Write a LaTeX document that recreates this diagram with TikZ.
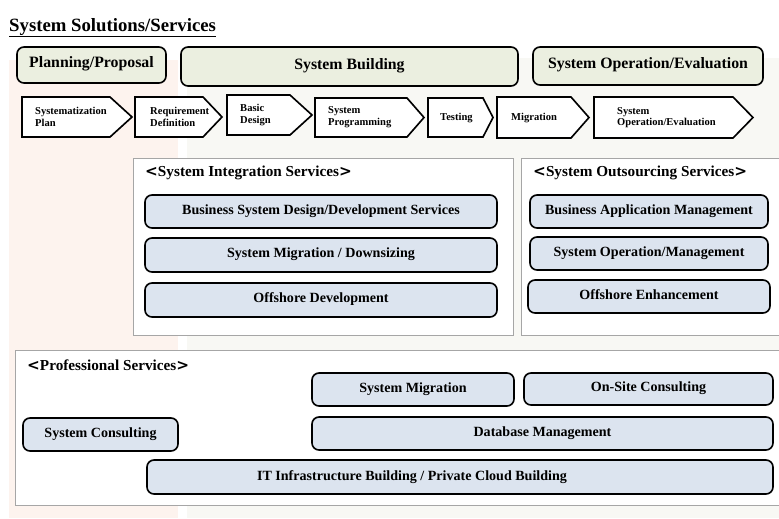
\documentclass[tikz,border=0pt]{standalone}
\usepackage{fontspec}
\setmainfont{Liberation Serif}
\newfontfamily\chevfont{DejaVu Sans}
\usepackage{tikz}
\usetikzlibrary{positioning,calc}

\definecolor{planbg}{HTML}{FDF3EE}
\definecolor{buildbg}{HTML}{F8F8F4}
\definecolor{stagefill}{HTML}{EBEFE0}
\definecolor{servfill}{HTML}{DCE4EF}
\definecolor{groupline}{HTML}{A6A6A6}

\newcommand\chevL{{\chevfont\bfseries<}}
\newcommand\chevR{{\chevfont\bfseries>}}

\begin{document}
\begin{tikzpicture}[x=0.03cm,y=-0.03cm]
		\tikzset{stagebox/.style={draw,rounded corners=6pt,line width=1.4pt,fill=stagefill,inner sep=0pt,text height=0.7em,text depth=0.2em,font=\bfseries\fontsize{13.5}{15}\selectfont}}
		\tikzset{servicebox/.style={draw,rounded corners=6pt,line width=1.4pt,fill=servfill,inner sep=0pt,text height=0.7em,text depth=0.2em,font=\bfseries\fontsize{12}{14}\selectfont}}
		\tikzset{groupbox/.style={draw=groupline,line width=0.8pt,fill=white}}
		\tikzset{grouptitle/.style={anchor=west,inner sep=0pt,font=\bfseries\fontsize{13}{15}\selectfont}}
		\tikzset{steparrow/.style={draw,line width=1.4pt,fill=white,line join=miter}}
		\tikzset{steptext/.style={anchor=west,inner sep=0pt,align=left,font=\bfseries\fontsize{9}{10}\selectfont}}
		
		%\draw[help lines, blue] (0,0) grid[step=50] (779,518);
		
		\newcommand\drawBox[7] % {left} {top} {right} {bottom} {style} {label} {name}
		{
			\node[#5, minimum width={(#3-#1)*0.03cm}, minimum height={(#4-#2)*0.03cm}] at ({(#1+#3)/2},{(#2+#4)/2}) (#7) {#6};
		}
		
		\newcommand\drawStep[8] % {left} {body end} {tip} {top} {bottom} {text shift} {label} {name}
		{
			\draw[steparrow] (#1,#4) -- (#2,#4) -- (#3,{(#4+#5)/2}) -- (#2,#5) -- (#1,#5) -- cycle;
			\node[steptext] at (#1+#6,{(#4+#5)/2}) (#8) {#7};
		}
		
		\useasboundingbox (0,0) rectangle (779,518);
		\clip (0,0) rectangle (779,518);
		
		% background bands
		\fill[planbg] (9,60) rectangle (178,518);
		\fill[buildbg] (187,58) rectangle (779,518);
		
		\node[anchor=base west,inner sep=0pt,font=\bfseries\fontsize{16}{18}\selectfont] at (9,31) (title) {\underline{System Solutions/Services}};
		
		\drawBox{17}{47}{166}{83}{stagebox}{Planning/Proposal}{plan}
		\drawBox{181}{47}{518}{86}{stagebox}{System Building}{build}
		\drawBox{533}{47}{763}{85}{stagebox}{System Operation/Evaluation}{oper}
		
		\drawStep{22}{110}{132}{97}{137}{13}{Systematization\\Plan}{stplan}
		\drawStep{135}{203}{222}{97}{137}{15}{Requirement\\Definition}{streq}
		\drawStep{227}{290}{312}{95}{135}{13}{Basic\\Design}{stbasic}
		\drawStep{315}{407}{424}{98}{137}{13}{System\\Programming}{stprog}
		\drawStep{428}{483}{493}{98}{137}{12}{Testing}{sttest}
		\drawStep{497}{571}{589}{97}{138}{14}{Migration}{stmig}
		\drawStep{594}{733}{753}{97}{138}{23}{System\\Operation/Evaluation}{stoper}
		
		% system integration services
		\draw[groupbox] (133,158) rectangle (513,335);
		\node[grouptitle] at (145,173) (sititle) {\chevL System Integration Services\chevR};
		\drawBox{145}{195}{497}{228}{servicebox}{Business System Design/Development Services}{bsd}
		\drawBox{145}{238}{497}{272}{servicebox}{System Migration / Downsizing}{smd}
		\drawBox{145}{283}{497}{317}{servicebox}{Offshore Development}{ofd}
		
		% system outsourcing services
		\draw[groupbox] (521,158) rectangle (800,335);
		\node[grouptitle] at (533,173) (sotitle) {\chevL System Outsourcing Services\chevR};
		\drawBox{530}{195}{768}{228}{servicebox}{Business Application Management}{bam}
		\drawBox{530}{237}{768}{270}{servicebox}{System Operation/Management}{som}
		\drawBox{528}{280}{770}{313}{servicebox}{Offshore Enhancement}{ofe}
		
		% professional services
		\draw[groupbox] (15,350) rectangle (800,505);
		\node[grouptitle] at (27,365) (pstitle) {\chevL Professional Services\chevR};
		\drawBox{312}{373}{514}{406}{servicebox}{System Migration}{smig}
		\drawBox{524}{373}{773}{405}{servicebox}{On-Site Consulting}{osc}
		\drawBox{23}{418}{178}{451}{servicebox}{System Consulting}{scon}
		\drawBox{312}{417}{773}{450}{servicebox}{Database Management}{dbm}
		\drawBox{147}{460}{773}{494}{servicebox}{}{itb}
		\node[font=\bfseries\fontsize{12}{14}\selectfont] at ($(itb.center)+(-48,0)$) (itbtext) {IT Infrastructure Building / Private Cloud Building};
		
\end{tikzpicture}
\end{document}
